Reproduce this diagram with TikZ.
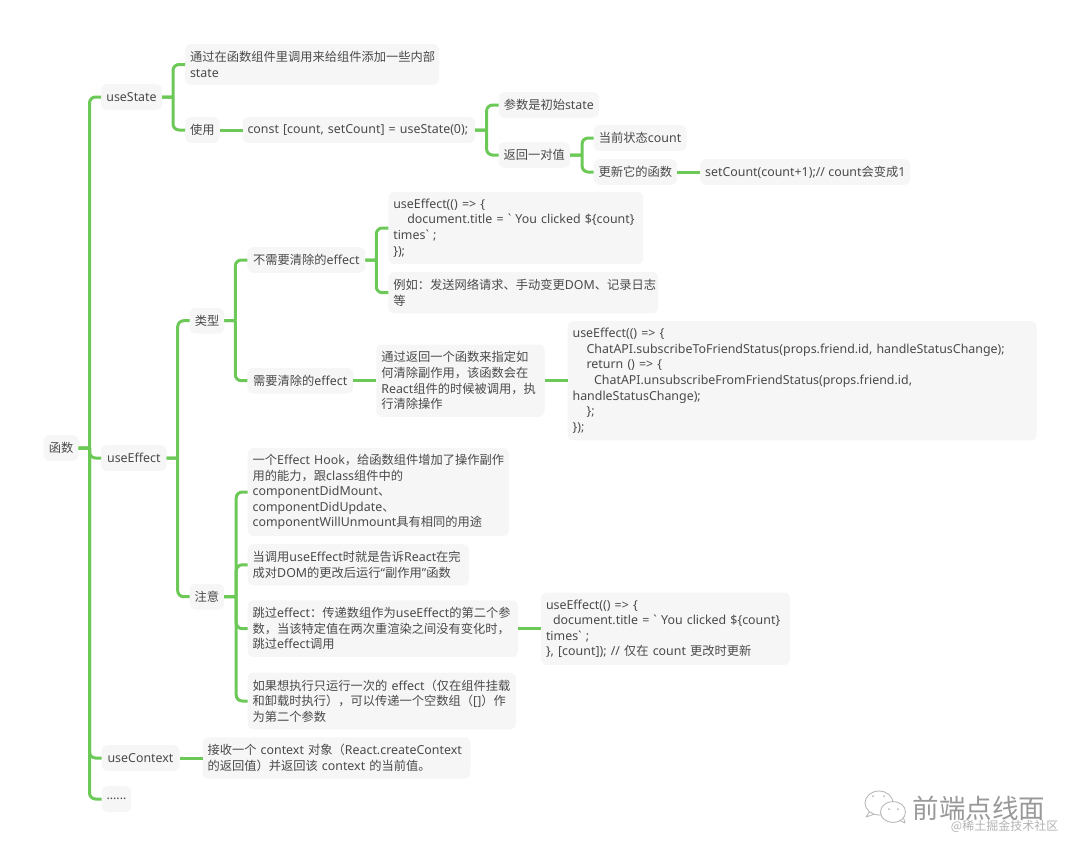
\documentclass[tikz,border=0pt]{standalone}
\usepackage{fontspec}
\setmainfont{Noto Sans}
\newfontfamily\cjk{Noto Sans CJK SC}
\newcommand{\zh}[1]{{\cjk\fontsize{12.25}{15.6}\selectfont #1}}
\usetikzlibrary{positioning}
\definecolor{branchgreen}{HTML}{6CC857}
\definecolor{boxgray}{HTML}{F6F6F6}
\definecolor{inkgray}{HTML}{4A4A4A}

\begin{document}
\begin{tikzpicture}[
  x=1pt, y=1pt,
  node distance=23pt,
  topic/.style={rectangle, rounded corners=6pt, fill=boxgray, text=inkgray, inner xsep=5pt, inner ysep=0pt,
    outer sep=0pt, align=left, minimum height=25.6pt, font=\fontsize{12.4}{15.6}\selectfont},
  rows/.style={minimum height=#1*15.6pt+10pt},
  link/.style={draw=branchgreen, line width=3pt, rounded corners=6pt},
  mark text/.style={inner sep=0pt, align=center},
  mark line/.style={draw=gray!55, line width=0.9pt, line join=round}
]
  \useasboundingbox (0,0) rectangle (1080,-855);

  \node[topic, minimum width=35pt] (root) at (61,-448) {\zh{函数}};

  \node[topic, minimum width=61pt, right=22.5pt of root, yshift=351pt]  (useState)   {useState};
  \node[topic, minimum width=65.7pt, right=22.5pt of root, yshift=-10pt]  (useEffect)  {useEffect};
  \node[topic, minimum width=78pt, right=23pt of root, yshift=-310pt] (useContext) {useContext};
  \node[topic, minimum width=28pt, right=23pt of root, yshift=-351pt] (more)       {......};

  \node[topic, rows=2, text width=244pt, right=of useState, yshift=32.5pt] (stateNote)
    {\zh{通过在函数组件里调用来给组件添加一些内部}\\state};
  \node[topic, minimum width=34.4pt, right=of useState, yshift=-33pt] (stateUse) {\zh{使用}};
  \node[topic, text width=222.6pt, right=of stateUse] (constLine) {const [count, setCount] = useState(0);};
  \node[topic, minimum width=100.5pt, right=23.5pt of constLine, yshift=25pt]  (initArg) {\zh{参数是初始}state};
  \node[topic, minimum width=71.5pt, right=23.5pt of constLine, yshift=-25pt] (pairRet) {\zh{返回一对值}};
  \node[topic, minimum width=93pt, right=23.5pt of pairRet, yshift=17pt]  (curCount) {\zh{当前状态}count};
  \node[topic, minimum width=83.5pt, right=23.5pt of pairRet, yshift=-17pt] (setFunc)  {\zh{更新它的函数}};
  \node[topic, minimum width=208pt, right=of setFunc] (setCall) {setCount(count+1);// count\zh{会变成}1};

  \node[topic, minimum width=34.6pt, right=of useEffect, yshift=137.3pt]  (effType) {\zh{类型}};
  \node[topic, minimum width=33.7pt, right=of useEffect, yshift=-138.7pt] (effNote) {\zh{注意}};
  \node[topic, minimum width=118pt, right=of effType, yshift=60.7pt] (noClean)   {\zh{不需要清除的}effect};
  \node[topic, minimum width=106pt, right=of effType, yshift=-60pt]  (needClean) {\zh{需要清除的}effect};

  \node[topic, rows=4, text width=245pt, right=of noClean, yshift=32pt] (noCleanCode)
    {useEffect(() => \{\\
     \hspace*{14pt}document.title = \textasciigrave\ You clicked \$\{count\}\\
     times\textasciigrave\ ;\\
     \});};
  \node[topic, rows=2, text width=260pt, right=of noClean, yshift=-32.7pt] (noCleanEx)
    {\zh{例如：发送网络请求、手动变更}DOM\zh{、记录日志}\\\zh{等}};
  \node[topic, rows=4, text width=158.3pt, right=of needClean] (cleanDesc)
    {\zh{通过返回一个函数来指定如}\\\zh{何清除副作用，该函数会在}\\React\zh{组件的时候被调用，执}\\\zh{行清除操作}};
  \node[topic, rows=7, text width=459pt, right=of cleanDesc] (cleanCode)
    {useEffect(() => \{\\
     \hspace*{14pt}ChatAPI.subscribeToFriendStatus(props.friend.id, handleStatusChange);\\
     \hspace*{14pt}return () => \{\\
     \hspace*{21.5pt}ChatAPI.unsubscribeFromFriendStatus(props.friend.id,\\
     handleStatusChange);\\
     \hspace*{14pt}\};\\
     \});};

  \node[topic, rows=5, text width=251.3pt, right=23.5pt of effNote, yshift=104.7pt] (hookNote)
    {\zh{一个}Effect~Hook\zh{，给函数组件增加了操作副作}\\\zh{用的能力，跟}class\zh{组件中的}\\componentDidMount\zh{、}\\componentDidUpdate\zh{、}\\componentWillUnmount\zh{具有相同的用途}};
  \node[topic, rows=2, text width=211.3pt, right=23.5pt of effNote, yshift=31.9pt] (callNote)
    {\zh{当调用}useEffect\zh{时就是告诉}React\zh{在完}\\\zh{成对}DOM\zh{的更改后运行}“\zh{副作用}”\zh{函数}};
  \node[topic, rows=3, text width=260.3pt, right=23.5pt of effNote, yshift=-32pt] (skipNote)
    {\zh{跳过}effect\zh{：传递数组作为}useEffect\zh{的第二个参}\\\zh{数，当该特定值在两次重渲染之间没有变化时，}\\\zh{跳过}effect\zh{调用}};
  \node[topic, rows=3, text width=258.3pt, right=23.5pt of effNote, yshift=-104.3pt] (onceNote)
    {\zh{如果想执行只运行一次的} effect\zh{（仅在组件挂载}\\\zh{和卸载时执行），可以传递一个空数组（}[]\zh{）作}\\\zh{为第二个参数}};
  \node[topic, rows=4, text width=239pt, right=of skipNote] (skipCode)
    {useEffect(() => \{\\
     \hspace*{7pt}document.title = \textasciigrave\ You clicked \$\{count\}\\
     times\textasciigrave\ ;\\
     \}, [count]); // \zh{仅在} count \zh{更改时更新}};

  \node[topic, rows=2, text width=258pt, right=of useContext] (ctxNote)
    {\zh{接收一个} context \zh{对象（}React.createContext\\\zh{的返回值）并返回该} context \zh{的当前值。}};

  \draw[link] (root.east) -- ++(11,0) ++(0,0) |- (useState.west);
  \draw[link] (root.east) -- ++(11,0) ++(0,0) |- (useEffect.west);
  \draw[link] (root.east) -- ++(11,0) ++(0,0) |- (useContext.west);
  \draw[link] (root.east) -- ++(11,0) ++(0,0) |- (more.west);
  \draw[link] (useState.east) -- ++(11,0) ++(0,0) |- (stateNote.west);
  \draw[link] (useState.east) -- ++(11,0) ++(0,0) |- (stateUse.west);
  \draw[link] (stateUse) -- (constLine);
  \draw[link] (constLine.east) -- ++(11.5,0) ++(0,0) |- (initArg.west);
  \draw[link] (constLine.east) -- ++(11.5,0) ++(0,0) |- (pairRet.west);
  \draw[link] (pairRet.east) -- ++(12,0) ++(0,0) |- (curCount.west);
  \draw[link] (pairRet.east) -- ++(12,0) ++(0,0) |- (setFunc.west);
  \draw[link] (setFunc) -- (setCall);
  \draw[link] (useEffect.east) -- ++(11,0) ++(0,0) |- (effType.west);
  \draw[link] (useEffect.east) -- ++(11,0) ++(0,0) |- (effNote.west);
  \draw[link] (effType.east) -- ++(11,0) ++(0,0) |- (noClean.west);
  \draw[link] (effType.east) -- ++(11,0) ++(0,0) |- (needClean.west);
  \draw[link] (noClean.east) -- ++(11,0) ++(0,0) |- (noCleanCode.west);
  \draw[link] (noClean.east) -- ++(11,0) ++(0,0) |- (noCleanEx.west);
  \draw[link] (needClean) -- (cleanDesc);
  \draw[link] (cleanDesc) -- (cleanCode);
  \draw[link] (effNote.east) -- ++(12,0) ++(0,0) |- (hookNote.west);
  \draw[link] (effNote.east) -- ++(12,0) ++(0,0) |- (callNote.west);
  \draw[link] (effNote.east) -- ++(12,0) ++(0,0) |- (skipNote.west);
  \draw[link] (effNote.east) -- ++(12,0) ++(0,0) |- (onceNote.west);
  \draw[link] (skipNote) -- (skipCode);
  \draw[link] (useContext) -- (ctxNote);

  % watermark
  \node[mark text, text=gray!80, font=\cjk\fontsize{26.5}{26.5}\selectfont] (markName) at (979,-808) {前端点线面};
  \node[mark text, text=gray!60, font=\cjk\fontsize{12}{12}\selectfont, below left=0pt and -13pt of markName.south east] (markSite) {@稀土掘金技术社区};
  \draw[mark line] (870,-811) -- (866,-817) -- (875,-814);
  \draw[mark line, fill=white] (879,-803) ellipse (14pt and 12pt);
  \draw[mark line] (899,-820) -- (905,-823) -- (903,-816);
  \draw[mark line, fill=white] (893,-812) ellipse (12.5pt and 10.5pt);
  \foreach \eye in {(873,-796), (884,-796), (889,-809), (898,-809)}
    \fill[gray!55] \eye circle (1pt);
\end{tikzpicture}
\end{document}
